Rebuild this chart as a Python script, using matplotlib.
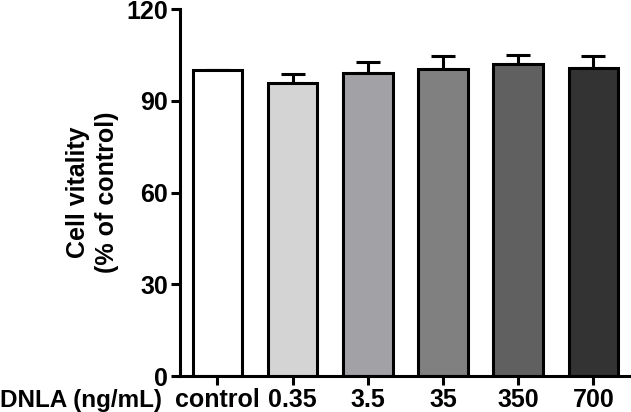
import matplotlib.pyplot as plt
import numpy as np

plt.rcParams['font.family'] = ['Liberation Sans', 'DejaVu Sans']
plt.rcParams['font.weight'] = 'bold'

# data
groups = ['control', '0.35', '3.5', '35', '350', '700']
vitality = [100, 95.8, 99.2, 100.3, 102.0, 100.7]
err_up = [0, 3.0, 3.6, 4.3, 3.1, 3.9]
colors = ['#ffffff', '#d4d4d4', '#a2a1a5', '#808080', '#606060', '#333333']
yticks = [0, 30, 60, 90, 120]

fig = plt.figure(figsize=(6.31, 4.12), dpi=100)
ax = fig.add_axes([0.285, 0.087, 0.715, 0.891])

x = np.arange(len(groups))
ax.bar(x, vitality, width=0.66, color=colors, edgecolor='black', linewidth=2.2, zorder=2)
# upper error bars only
ax.errorbar(x, vitality, yerr=[np.zeros(len(x)), err_up], fmt='none',
            ecolor='black', elinewidth=2.2, capsize=8.5, capthick=2.2, zorder=1)

ax.set_xlim(-0.5, 5.5)
ax.set_ylim(0, 120)
ax.set_yticks(yticks)
ax.set_xticks(x)
ax.set_xticklabels(groups)
ax.tick_params(axis='both', labelsize=18, width=2.2, length=6.5, direction='out')
ax.tick_params(axis='x', pad=2)
ax.tick_params(axis='y', pad=2)

for side in ['top', 'right']:
    ax.spines[side].set_visible(False)
for side in ['left', 'bottom']:
    ax.spines[side].set_linewidth(2.2)

ax.set_ylabel('Cell vitality\n(% of control)', fontsize=18, fontweight='bold',
              labelpad=5, linespacing=1.3)
fig.text(0.0, 0.012, 'DNLA (ng/mL)', fontsize=17.5, fontweight='bold', ha='left', va='baseline')

fig.savefig('out.png', dpi=100)
